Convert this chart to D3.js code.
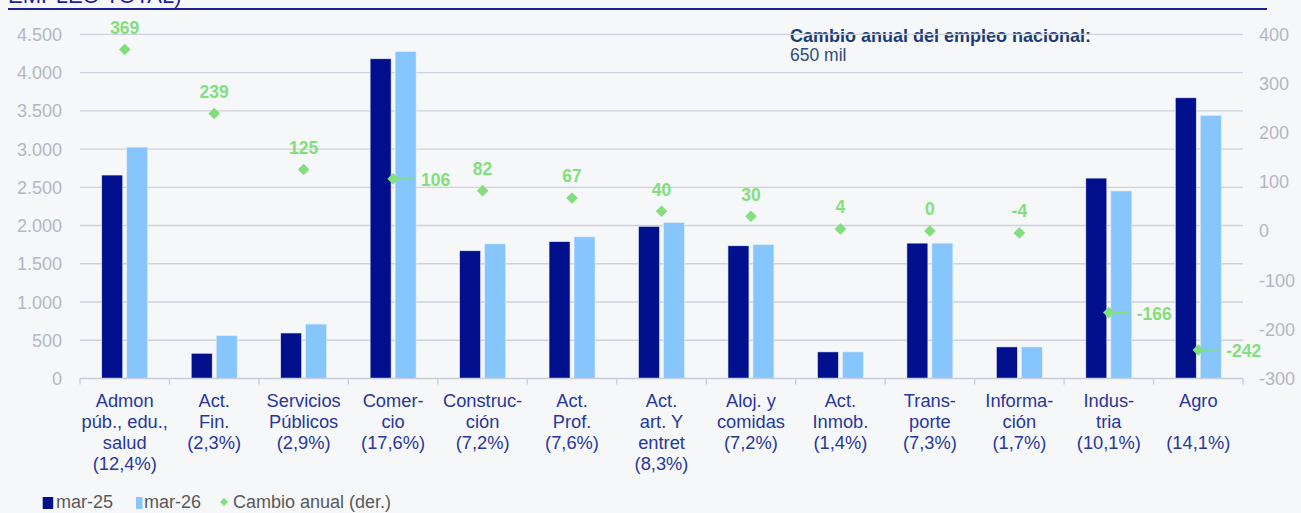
<!DOCTYPE html>
<html><head><meta charset="utf-8">
<script src="https://cdn.jsdelivr.net/npm/d3@7"></script>
<style>
html,body{margin:0;padding:0;background:#f6f7f8;}
svg{display:block;font-family:"Liberation Sans",Arial,sans-serif;}
</style></head>
<body>
<svg id="c" width="1301" height="513"></svg>
<script>
const categories = [
  ["Admon","púb., edu.,","salud","(12,4%)"],
  ["Act.","Fin.","(2,3%)"],
  ["Servicios","Públicos","(2,9%)"],
  ["Comer-","cio","(17,6%)"],
  ["Construc-","ción","(7,2%)"],
  ["Act.","Prof.","(7,6%)"],
  ["Act.","art. Y","entret","(8,3%)"],
  ["Aloj. y","comidas","(7,2%)"],
  ["Act.","Inmob.","(1,4%)"],
  ["Trans-","porte","(7,3%)"],
  ["Informa-","ción","(1,7%)"],
  ["Indus-","tria","(10,1%)"],
  ["Agro","","(14,1%)"]
];
const mar25 = [2660, 330, 595, 4180, 1670, 1790, 1990, 1735, 348, 1770, 413, 2620, 3670];
const mar26 = [3025, 560, 712, 4275, 1760, 1852, 2040, 1752, 348, 1770, 413, 2452, 3440];
const cambio = [369, 239, 125, 106, 82, 67, 40, 30, 4, 0, -4, -166, -242];
const sideLabel = [false,false,false,true,false,false,false,false,false,false,false,true,true];
const leftTicks = [0,500,1000,1500,2000,2500,3000,3500,4000,4500];
const rightTicks = [-300,-200,-100,0,100,200,300,400];
const seriesNames = ["mar-25","mar-26"];

const svg = d3.select("#c");
const fmtL = d => d3.format(",")(d).replace(/,/g,".");

const x = d3.scaleBand().domain(d3.range(categories.length)).range([80,1243]).padding(0);
const x1 = d3.scaleBand().domain(seriesNames).range([0,x.bandwidth()]).paddingInner(0.16).paddingOuter(0.87);
const yL = d3.scaleLinear().domain([0,4500]).range([378.5,34.3]);
const yR = d3.scaleLinear().domain([-300,400]).range([378.5,34.3]);
const colors = {"mar-25":"#00108c","mar-26":"#86c6fd"};
const green = "#82df7e";

// title remnant + rule
svg.append("text").attr("x",8).attr("y",3).attr("fill","#1d1fa0").attr("font-size",22)
  .text("EMPLEO TOTAL)");
svg.append("line").attr("x1",8).attr("x2",1267).attr("y1",9).attr("y2",9)
  .attr("stroke","#1a1f9e").attr("stroke-width",2.2);

// annotation (under gridlines)
svg.append("text").attr("x",790).attr("y",42.3).attr("fill","#1b3d72").attr("font-weight","bold")
  .attr("font-size",18).text("Cambio anual del empleo nacional:");
svg.append("text").attr("x",790).attr("y",60.7).attr("fill","#2d4c7c")
  .attr("font-size",17.5).text("650 mil");

// gridlines
svg.append("g").selectAll("line").data(leftTicks.filter(d=>d>0)).join("line")
  .attr("x1",80).attr("x2",1243).attr("y1",d=>yL(d)).attr("y2",d=>yL(d))
  .attr("stroke","#cfd2de").attr("stroke-width",1.3);

// left axis labels
svg.append("g").selectAll("text").data(leftTicks).join("text")
  .attr("x",62).attr("y",d=>yL(d)+6.5).attr("text-anchor","end")
  .attr("fill","#b3b7c3").attr("font-size",18).text(fmtL);
// right axis labels
svg.append("g").selectAll("text").data(rightTicks).join("text")
  .attr("x",1259).attr("y",d=>yR(d)+6.5).attr("text-anchor","start")
  .attr("fill","#b3b7c3").attr("font-size",18).text(d=>d);

// bars
const data = categories.map((c,i)=>({i, vals:[{k:"mar-25",v:mar25[i]},{k:"mar-26",v:mar26[i]}]}));
const g = svg.append("g").selectAll("g").data(data).join("g")
  .attr("transform",d=>`translate(${x(d.i)},0)`);
g.selectAll("rect").data(d=>d.vals).join("rect")
  .attr("x",d=>x1(d.k)).attr("width",x1.bandwidth())
  .attr("y",d=>yL(d.v)).attr("height",d=>yL(0)-yL(d.v))
  .attr("fill",d=>colors[d.k]).attr("stroke","#e8eefc").attr("stroke-width",0.6);

// x axis line and ticks
svg.append("line").attr("x1",80).attr("x2",1243).attr("y1",yL(0)).attr("y2",yL(0))
  .attr("stroke","#c9ccd9").attr("stroke-width",1.3);
svg.append("g").selectAll("line").data(d3.range(categories.length+1)).join("line")
  .attr("x1",d=>80+d*x.step()).attr("x2",d=>80+d*x.step())
  .attr("y1",yL(0)).attr("y2",yL(0)+6).attr("stroke","#c9ccd9").attr("stroke-width",1.3);

// category labels
const cl = svg.append("g").selectAll("text").data(categories).join("text")
  .attr("text-anchor","middle").attr("fill","#27379b").attr("font-size",18.3);
cl.each(function(lines,i){
  const t = d3.select(this);
  lines.forEach((ln,j)=>{
    t.append("tspan").attr("x",x(i)+x.bandwidth()/2).attr("y",406.7+j*21).text(ln);
  });
});

// change markers
const cx = i => x(i)+x.bandwidth()/2;
const mk = svg.append("g");
cambio.forEach((v,i)=>{
  const px = cx(i), py = yR(v), r = 5.8;
  if (sideLabel[i]) {
    mk.append("line").attr("x1",px).attr("x2",px+21).attr("y1",py).attr("y2",py)
      .attr("stroke",green).attr("stroke-width",1.5);
  }
  mk.append("path").attr("d",`M${px},${py-r}L${px+r},${py}L${px},${py+r}L${px-r},${py}Z`).attr("fill",green);
  const t = mk.append("text").attr("fill",green).attr("font-weight","bold").attr("font-size",17.5).text(v);
  if (sideLabel[i]) t.attr("x",px+28).attr("y",py+7);
  else t.attr("x",px).attr("y",py-15.7).attr("text-anchor","middle");
});

// legend
const lg = svg.append("g");
lg.append("rect").attr("x",42.7).attr("y",497).attr("width",10.5).attr("height",12).attr("fill",colors["mar-25"]);
lg.append("text").attr("x",56).attr("y",508.3).attr("font-size",18).attr("fill","#595959").text("mar-25");
lg.append("rect").attr("x",136).attr("y",497).attr("width",6.5).attr("height",12).attr("fill",colors["mar-26"]);
lg.append("text").attr("x",144).attr("y",508.3).attr("font-size",18).attr("fill","#595959").text("mar-26");
lg.append("path").attr("d","M224,498L228,502L224,506L220,502Z").attr("fill",green);
lg.append("text").attr("x",233).attr("y",508.3).attr("font-size",18).attr("fill","#595959").text("Cambio anual (der.)");
</script>
</body></html>
